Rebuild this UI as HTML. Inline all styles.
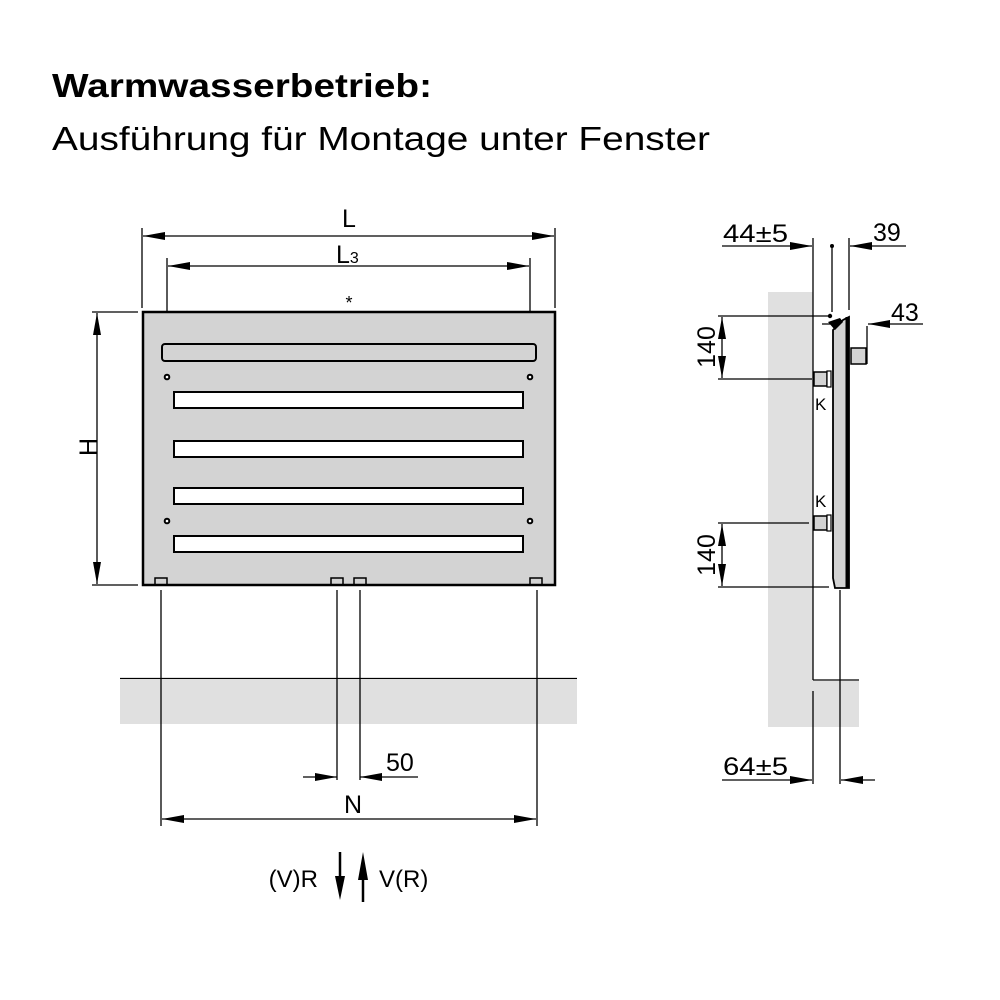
<!DOCTYPE html>
<html><head><meta charset="utf-8"><style>body{margin:0;background:#fff}svg{display:block}</style></head>
<body>
<svg width="1000" height="1000" viewBox="0 0 1000 1000" font-family="Liberation Sans, sans-serif">
<defs>
<marker id="b" viewBox="0 0 22 8" refX="22" refY="4" markerWidth="22" markerHeight="8" markerUnits="userSpaceOnUse" orient="auto-start-reverse"><path d="M0,0L22,4L0,8z" fill="#000"/></marker>
</defs>
<text x="52" y="97" font-size="33" font-weight="bold" textLength="380" lengthAdjust="spacingAndGlyphs">Warmwasserbetrieb:</text>
<text x="52" y="150" font-size="33" textLength="658" lengthAdjust="spacingAndGlyphs">Ausführung für Montage unter Fenster</text>

<g stroke="#000" stroke-width="1.3" fill="none">
<line x1="142" y1="228" x2="142" y2="308"/><line x1="555" y1="228" x2="555" y2="308"/>
<line x1="143" y1="236" x2="554" y2="236" marker-start="url(#b)" marker-end="url(#b)"/>
<line x1="167" y1="258" x2="167" y2="377"/><line x1="530" y1="258" x2="530" y2="377"/>
<line x1="168" y1="266" x2="529" y2="266" marker-start="url(#b)" marker-end="url(#b)"/>
<line x1="92" y1="312" x2="138" y2="312"/><line x1="92" y1="585" x2="138" y2="585"/>
<line x1="97" y1="313" x2="97" y2="584" marker-start="url(#b)" marker-end="url(#b)"/>
</g>
<text x="349" y="227" font-size="25" text-anchor="middle">L</text>
<text x="336" y="263" font-size="25">L<tspan font-size="16">3</tspan></text>
<text x="349" y="309" font-size="18" text-anchor="middle">*</text>
<text x="0" y="0" font-size="25" text-anchor="middle" transform="translate(97,447) rotate(-90)">H</text>

<rect x="143" y="312" width="412" height="273" fill="#d3d3d3" stroke="#000" stroke-width="2.5"/>
<rect x="162" y="344" width="374" height="17" rx="3" fill="none" stroke="#000" stroke-width="2"/>
<g fill="#fff" stroke="#000" stroke-width="2">
<rect x="174" y="392" width="349" height="16"/><rect x="174" y="441" width="349" height="16"/>
<rect x="174" y="488" width="349" height="16"/><rect x="174" y="536" width="349" height="16"/>
<circle cx="167" cy="377" r="2.3"/><circle cx="530" cy="377" r="2.3"/>
<circle cx="167" cy="521" r="2.3"/><circle cx="530" cy="521" r="2.3"/>
</g>
<g fill="none" stroke="#000" stroke-width="1.5">
<rect x="155" y="578" width="12" height="7"/><rect x="331" y="578" width="12" height="7"/>
<rect x="354" y="578" width="12" height="7"/><rect x="530" y="578" width="12" height="7"/>
</g>

<rect x="120" y="680" width="457" height="44" fill="#e0e0e0"/>
<line x1="120" y1="678.5" x2="577" y2="678.5" stroke="#000" stroke-width="1.3"/>
<g stroke="#000" stroke-width="1.3" fill="none">
<line x1="161" y1="590" x2="161" y2="826"/><line x1="537" y1="590" x2="537" y2="826"/>
<line x1="337" y1="590" x2="337" y2="780"/><line x1="360" y1="590" x2="360" y2="780"/>
<line x1="303" y1="777" x2="337" y2="777" marker-end="url(#b)"/>
<line x1="418" y1="777" x2="360" y2="777" marker-end="url(#b)"/>
<line x1="162" y1="819" x2="536" y2="819" marker-start="url(#b)" marker-end="url(#b)"/>
</g>
<text x="386" y="771" font-size="25">50</text>
<text x="353" y="813" font-size="25" text-anchor="middle">N</text>
<g stroke="#000" stroke-width="2.5">
<line x1="340" y1="852" x2="340" y2="880"/><line x1="363" y1="902" x2="363" y2="875"/>
</g>
<path d="M335,876L345,876L340,900z M358,880L368,880L363,852z" fill="#000"/>
<text x="318" y="887" font-size="24" text-anchor="end">(V)R</text>
<text x="379" y="887" font-size="24">V(R)</text>

<rect x="768" y="292" width="45" height="435" fill="#e0e0e0"/>
<rect x="813" y="681" width="46" height="46" fill="#e0e0e0"/>
<g stroke="#000" stroke-width="1.3" fill="none">
<line x1="813" y1="238" x2="813" y2="680"/><line x1="813" y1="680" x2="859" y2="680"/>
<line x1="813" y1="691" x2="813" y2="784"/><line x1="840" y1="590" x2="840" y2="784"/>
<line x1="832" y1="246" x2="832" y2="312"/><line x1="849" y1="238" x2="849" y2="310"/>
<line x1="722" y1="246" x2="812" y2="246" marker-end="url(#b)"/>
<line x1="906" y1="246" x2="850" y2="246" marker-end="url(#b)"/>
<line x1="722" y1="780" x2="812" y2="780" marker-end="url(#b)"/>
<line x1="875" y1="780" x2="841" y2="780" marker-end="url(#b)"/>
<line x1="923" y1="324" x2="868" y2="324" marker-end="url(#b)"/>
<line x1="867" y1="326" x2="867" y2="364"/>
<line x1="822" y1="324" x2="840" y2="324"/>
<line x1="718" y1="316" x2="830" y2="316"/><line x1="718" y1="379" x2="812" y2="379"/>
<line x1="722" y1="317" x2="722" y2="378" marker-start="url(#b)" marker-end="url(#b)"/>
<line x1="718" y1="523" x2="809" y2="523"/><line x1="718" y1="587" x2="829" y2="587"/>
<line x1="722" y1="524" x2="722" y2="586" marker-start="url(#b)" marker-end="url(#b)"/>
</g>
<circle cx="832" cy="246" r="2" fill="#000"/><circle cx="830" cy="316" r="2.2" fill="#000"/>
<path d="M833,330L843,320L849,317L849,588L835,588L833,578z" fill="#d3d3d3" stroke="#000" stroke-width="1.8"/>
<line x1="847" y1="317" x2="847" y2="588" stroke="#000" stroke-width="3"/>
<path d="M828,322L840,318L843,322L835,330z" fill="#000"/>
<rect x="851" y="348" width="15" height="16" fill="#d3d3d3" stroke="#000" stroke-width="1.5"/>
<rect x="814" y="372" width="13" height="14" fill="#d3d3d3" stroke="#000" stroke-width="1.5"/>
<rect x="827" y="371" width="4" height="16" fill="#fff" stroke="#000" stroke-width="1.2"/>
<rect x="814" y="516" width="13" height="14" fill="#d3d3d3" stroke="#000" stroke-width="1.5"/>
<rect x="827" y="515" width="4" height="16" fill="#fff" stroke="#000" stroke-width="1.2"/>
<text x="815" y="410" font-size="17">K</text>
<text x="815" y="507" font-size="17">K</text>
<text x="723" y="242" font-size="25" textLength="65" lengthAdjust="spacingAndGlyphs">44±5</text>
<text x="873" y="241" font-size="25">39</text>
<text x="891" y="321" font-size="25">43</text>
<text x="723" y="775" font-size="25" textLength="65" lengthAdjust="spacingAndGlyphs">64±5</text>
<text font-size="25" text-anchor="middle" transform="translate(715,347) rotate(-90)">140</text>
<text font-size="25" text-anchor="middle" transform="translate(715,555) rotate(-90)">140</text>
</svg>
</body></html>
